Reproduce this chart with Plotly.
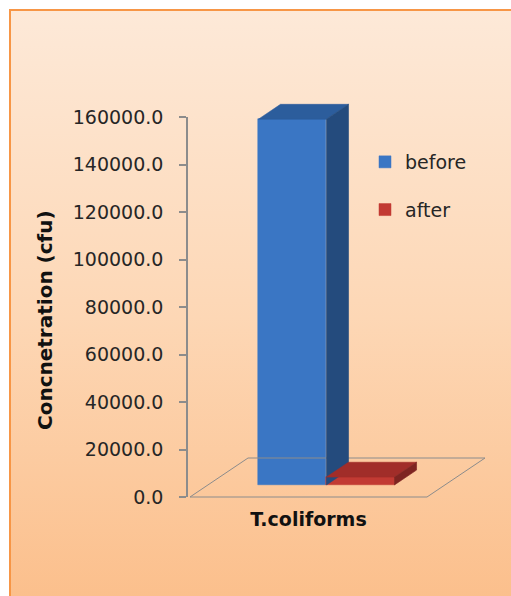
import base64
import plotly.graph_objects as go

# ---- data -------------------------------------------------------------
categories = ["T.coliforms"]
series_names = ["before", "after"]
before_values = [154000]
after_values = [3300]
y_ticks = [0, 20000, 40000, 60000, 80000, 100000, 120000, 140000, 160000]
y_title = "Concnetration (cfu)"

# ---- styling ----------------------------------------------------------
W, H = 511, 596
FONT = "DejaVu Sans"
TEXT = "#262626"
GRID = "#8C8C8C"
face_colors = {
    "before": dict(front="#3A76C4", top="#2C5D9C", side="#244B7D"),
    "after": dict(front="#C23A33", top="#A12D29", side="#7E2421"),
}

# plot-area geometry (pixels)
plot_left, plot_right = 188, 500
plot_top, plot_bottom = 93, 506
zero_px, top_tick_px = 497, 117          # pixel rows of 0 and of the top tick
floor_left_px, px_per_cat = 190, 237     # front-left floor corner, category width

s_y = (zero_px - top_tick_px) / y_ticks[-1]          # px per value unit
y_range = [-(plot_bottom - zero_px) / s_y, (zero_px - plot_top) / s_y]
x0 = -0.5 - (floor_left_px - plot_left) / px_per_cat
x_range = [x0, x0 + (plot_right - plot_left) / px_per_cat]

# oblique projection of the depth axis
DX = 58 / px_per_cat       # x shift across the full floor depth
DY = 39 / s_y              # y shift across the full floor depth
t0, t1 = 0.31, 0.69        # depth span occupied by the columns
bar_w = 0.287              # width of one column (category units)

fig = go.Figure()

# value axis carrier (keeps the tick axis drawn)
fig.add_trace(go.Scatter(x=[0, 0], y=[y_ticks[1], y_ticks[-2]],
                         yaxis="y2", mode="markers", marker=dict(opacity=0, size=1),
                         showlegend=False, hoverinfo="skip"))

# floor of the 3-D plot
fx = [-0.5, 0.5, 0.5 + DX, -0.5 + DX, -0.5]
fy = [0, 0, DY, DY, 0]
fig.add_trace(go.Scatter(x=fx, y=fy, mode="lines", line=dict(color=GRID, width=1),
                         showlegend=False, hoverinfo="skip"))

series = [("before", before_values, -1), ("after", after_values, +1)]
for name, vals, side in series:
    col = face_colors[name]
    for ci, v in enumerate(vals):
        xl = ci + (0 if side > 0 else -bar_w)
        xr = xl + bar_w
        # front face
        fig.add_trace(go.Bar(
            x=[(xl + xr) / 2 + t0 * DX], y=[v], base=[t0 * DY], width=[bar_w],
            name=name, legendgroup=name, showlegend=(ci == 0),
            marker=dict(color=col["front"], line=dict(color=col["front"], width=0.5)),
        ))
        # top face
        tx = [xl + t0 * DX, xr + t0 * DX, xr + t1 * DX, xl + t1 * DX, xl + t0 * DX]
        ty = [v + t0 * DY, v + t0 * DY, v + t1 * DY, v + t1 * DY, v + t0 * DY]
        fig.add_trace(go.Scatter(x=tx, y=ty, fill="toself", fillcolor=col["top"],
                                 mode="lines", line=dict(color=col["top"], width=0.6),
                                 legendgroup=name, showlegend=False, hoverinfo="skip"))
        # right side face
        sx = [xr + t0 * DX, xr + t1 * DX, xr + t1 * DX, xr + t0 * DX, xr + t0 * DX]
        sy = [t0 * DY, t1 * DY, v + t1 * DY, v + t0 * DY, t0 * DY]
        fig.add_trace(go.Scatter(x=sx, y=sy, fill="toself", fillcolor=col["side"],
                                 mode="lines", line=dict(color=col["side"], width=0.6),
                                 legendgroup=name, showlegend=False, hoverinfo="skip"))

# background: white page with an orange-framed gradient panel
svg = (
    f'<svg xmlns="http://www.w3.org/2000/svg" width="{W}" height="{H}" '
    f'viewBox="0 0 {W} {H}" preserveAspectRatio="none">'
    '<defs><linearGradient id="g" x1="0" y1="0" x2="0" y2="1">'
    '<stop offset="0" stop-color="#FDE9D8"/>'
    '<stop offset="0.5" stop-color="#FDD7B5"/>'
    '<stop offset="1" stop-color="#FBBD88"/></linearGradient></defs>'
    f'<rect width="{W}" height="{H}" fill="#FFFFFF"/>'
    f'<rect x="10" y="10" width="{W + 20}" height="{H + 20}" fill="url(#g)" '
    'stroke="#F79646" stroke-width="2"/></svg>'
)
bg_src = "data:image/svg+xml;base64," + base64.b64encode(svg.encode()).decode()

fig.update_layout(
    width=W, height=H, autosize=False,
    margin=dict(l=0, r=0, t=0, b=0, pad=0, autoexpand=False),
    paper_bgcolor="#FFFFFF", plot_bgcolor="rgba(0,0,0,0)",
    barmode="overlay", bargap=0,
    images=[dict(source=bg_src, xref="paper", yref="paper", x=0, y=1,
                 sizex=1, sizey=1, xanchor="left", yanchor="top",
                 sizing="stretch", layer="below")],
    xaxis=dict(domain=[plot_left / W, plot_right / W], range=x_range,
               showgrid=False, zeroline=False, showline=False, ticks="",
               tickvals=list(range(len(categories))),
               ticktext=[f"<b>{c}</b>" for c in categories],
               tickfont=dict(family=FONT, size=19, color="#111111"),
               ticklabelstandoff=0, automargin=False, fixedrange=True),
    yaxis=dict(domain=[1 - plot_bottom / H, 1 - plot_top / H], range=y_range,
               visible=False, automargin=False, fixedrange=True),
    # value axis: same scale, spanning only 0 .. top tick
    yaxis2=dict(domain=[1 - zero_px / H, 1 - top_tick_px / H],
                range=[y_ticks[0], y_ticks[-1]], anchor="x",
                tickvals=y_ticks, tickformat=".1f",
                showgrid=False, zeroline=False, showline=True,
                linecolor=GRID, linewidth=1.5,
                ticks="outside", ticklen=7, tickcolor=GRID, tickwidth=1.5,
                ticklabelstandoff=12, automargin=False,
                tickfont=dict(family=FONT, size=19, color=TEXT), fixedrange=True),
    legend=dict(x=365 / W, y=1 - 143 / H, xanchor="left", yanchor="top",
                bgcolor="rgba(0,0,0,0)", traceorder="grouped", tracegroupgap=20,
                font=dict(family=FONT, size=19, color=TEXT)),
    annotations=[dict(text=f"<b>{y_title}</b>", textangle=-90,
                      x=45 / W, y=1 - 320 / H, xref="paper", yref="paper",
                      xanchor="center", yanchor="middle",
                      showarrow=False, font=dict(family=FONT, size=20, color="#111111"))],
    showlegend=True,
)

fig.write_html("out.html")
